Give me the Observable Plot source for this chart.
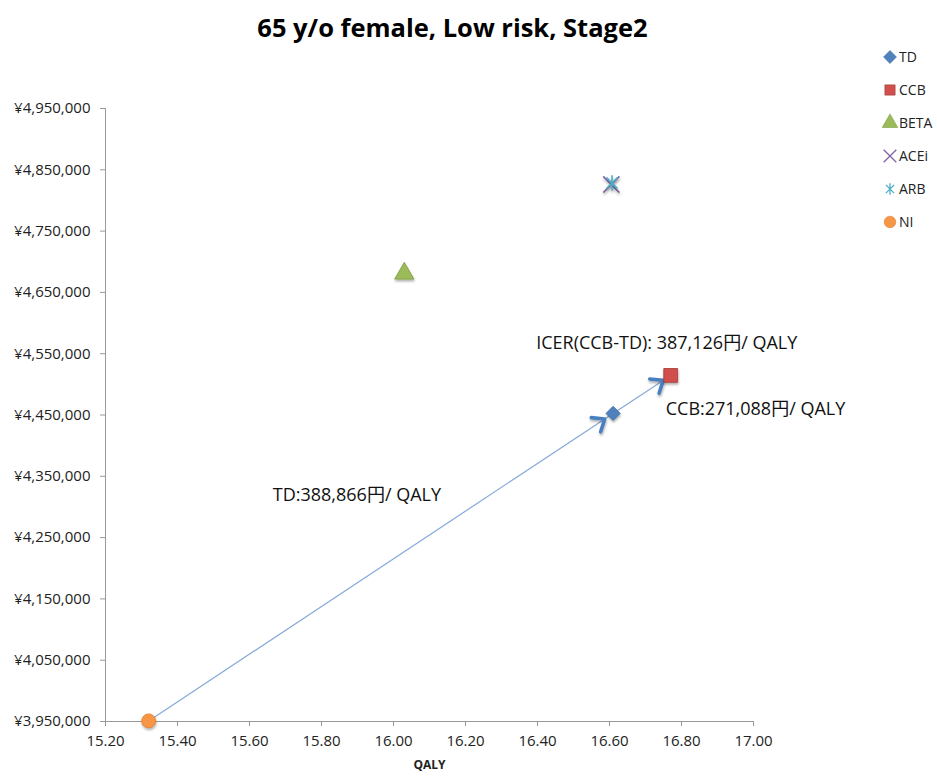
<!DOCTYPE html>
<html>
<head>
<meta charset="utf-8">
<script src="https://cdn.jsdelivr.net/npm/d3@7"></script>
<script src="https://cdn.jsdelivr.net/npm/@observablehq/plot@0.6"></script>
<style>
  body { margin: 0; background: #fff; }
  #wrap { position: relative; width: 937px; height: 778px; font-family: "Open Sans", "Noto Sans CJK JP", sans-serif; }
  #title { position: absolute; left: 0; top: 10px; width: 905px; text-align: center; font-weight: 700; font-size: 25.5px; color: #000; }
  #chart { position: absolute; left: 0; top: 0; }
  #legend { position: absolute; left: 884px; top: 40px; font-size: 14px; color: #222; }
  #legend .item { display: flex; align-items: center; height: 33px; }
  #legend svg { margin-right: 3px; overflow: visible; }
</style>
</head>
<body>
<div id="wrap">
  <div id="chart"></div>
  <div id="title">65 y/o female, Low risk, Stage2</div>
  <div id="legend"></div>
</div>
<script>
// Treatment strategies: lifetime QALYs and costs (yen)
const strategies = ["TD", "CCB", "BETA", "ACEi", "ARB", "NI"];
const qaly = [16.61, 16.77, 16.03, 16.605, 16.607, 15.32];
const cost = [4452637, 4514577, 4680800, 4826000, 4828500, 3951000];

// Incremental comparisons drawn as arrows (from -> to)
const compareFrom = ["NI", "TD"];
const compareTo = ["TD", "CCB"];

// Cost-effectiveness annotations
const icerTD = 388866;
const icerCCB = 271088;
const icerCCBvsTD = 387126;

// Axis ticks
const xTicks = [15.2, 15.4, 15.6, 15.8, 16.0, 16.2, 16.4, 16.6, 16.8, 17.0];
const yTicks = [3950000, 4050000, 4150000, 4250000, 4350000, 4450000, 4550000, 4650000, 4750000, 4850000, 4950000];

// Marker styling per strategy
const styles = {
  TD:   {symbol: "diamond2", fill: "#4f81bd", stroke: "#3b6aa0", r: 6.4},
  CCB:  {symbol: "square",   fill: "#d0504d", stroke: "#a23936", r: 7.8},
  BETA: {symbol: "triangle", fill: "#9bbb59", stroke: "#7f9c43", r: 7.2},
  ACEi: {symbol: "times",    fill: "none",    stroke: "#8064a2", r: 7.4},
  ARB:  {symbol: "star8",    fill: "none",    stroke: "#4bacc6", r: 7.8},
  NI:   {symbol: "circle",   fill: "#f79646", stroke: "#e07b2a", r: 7}
};

// Star marker: vertical line plus an X
const star8 = {
  draw(context, size) {
    const r = Math.sqrt(size / Math.PI);
    const d = r * Math.SQRT1_2;
    context.moveTo(0, -r); context.lineTo(0, r);
    context.moveTo(-d, -d); context.lineTo(d, d);
    context.moveTo(-d, d); context.lineTo(d, -d);
  }
};

// Open chevron arrowhead with its tip at the anchor point, pointing up before rotation
const chevron = {
  draw(context) {
    const w = 8.5, h = 10.5;
    context.moveTo(-w, h); context.lineTo(0, 0); context.lineTo(w, h);
  }
};

const points = strategies.map((s, i) => ({name: s, qaly: qaly[i], cost: cost[i], ...styles[s]}));
const byName = Object.fromEntries(points.map(p => [p.name, p]));
// where along each comparison the arrowhead tip sits (just short of the target marker)
const tipAt = [0.982, 0.87];
const links = compareFrom.map((f, i) => ({from: byName[f], to: byName[compareTo[i]], t: tipAt[i]}));
const tips = links.map(l => ({
  x: l.from.qaly + (l.to.qaly - l.from.qaly) * l.t,
  y: l.from.cost + (l.to.cost - l.from.cost) * l.t
}));

const yen = d3.format(",");
const font = `"Open Sans", "Noto Sans CJK JP", sans-serif`;
const symbolOf = s => s === "star8" ? star8 : s;
const mid = (a, b) => ({x: (a.qaly + b.qaly) / 2, y: (a.cost + b.cost) / 2});

function build(angles) {
  return Plot.plot({
    width: 937,
    height: 778,
    marginLeft: 105,
    marginRight: 184,
    marginTop: 108,
    marginBottom: 57,
    style: {fontFamily: font, fontSize: "15px", color: "#222", background: "transparent"},
    x: {domain: [15.2, 17.0], label: null},
    y: {domain: [3950000, 4950000], label: null},
    marks: [
      Plot.axisX({ticks: xTicks, tickFormat: d => d.toFixed(2), tickSize: 5, tickPadding: 9, stroke: "#999", fontSize: 15, fill: "#222"}),
      Plot.axisY({ticks: yTicks, tickFormat: d => "¥" + yen(d), tickSize: 5, tickPadding: 10, stroke: "#999", fontSize: 15, fill: "#222"}),
      Plot.ruleX([15.2], {stroke: "#999"}),
      Plot.ruleY([3950000], {stroke: "#999"}),
      Plot.link(links, {x1: d => d.from.qaly, y1: d => d.from.cost, x2: d => d.to.qaly, y2: d => d.to.cost, stroke: "#86a9d8", strokeWidth: 1.2}),
      angles ? Plot.vector(tips, {x: "x", y: "y", rotate: (d, i) => angles[i], length: 10, anchor: "start",
        shape: chevron, stroke: "#4a7fc1", strokeWidth: 3.6, strokeLinecap: "round", strokeLinejoin: "round"}) : null,
      ...points.map(p => Plot.dot([p], {
        x: "qaly", y: "cost", symbol: () => symbolOf(p.symbol), r: p.r,
        fill: p.fill, stroke: p.stroke, strokeWidth: p.fill === "none" ? 1.6 : 0.8
      })),
      Plot.text([byName.CCB], {x: "qaly", y: "cost", text: () => `ICER(CCB-TD): ${yen(icerCCBvsTD)}円/ QALY`,
        textAnchor: "middle", dx: -4, dy: -32, fontSize: 18, fill: "#111"}),
      Plot.text([byName.CCB], {x: "qaly", y: "cost", text: () => `CCB:${yen(icerCCB)}円/ QALY`,
        textAnchor: "start", dx: -5, dy: 34, fontSize: 18, fill: "#111"}),
      Plot.text([mid(byName.NI, byName.TD)], {x: "x", y: "y", text: () => `TD:${yen(icerTD)}円/ QALY`,
        textAnchor: "middle", dx: -24, dy: -72, fontSize: 18, fill: "#111"}),
      Plot.text(["QALY"], {frameAnchor: "bottom", dy: 47, fontWeight: "bold", fontSize: 12, fill: "#222"})
    ]
  });
}

// First pass gives the scales; arrowhead rotations follow each comparison's on-screen direction
const probe = build(null);
const sx = probe.scale("x"), sy = probe.scale("y");
const angles = links.map(l => {
  const dx = sx.apply(l.to.qaly) - sx.apply(l.from.qaly);
  const dy = sy.apply(l.to.cost) - sy.apply(l.from.cost);
  return Math.atan2(dx, -dy) * 180 / Math.PI;
});
const chart = build(angles);
document.getElementById("chart").append(chart);

// Soft drop shadow under markers and arrowheads
const svg = d3.select(chart);
const defs = svg.insert("defs", ":first-child");
defs.append("filter").attr("id", "shadow").attr("x", "-50%").attr("y", "-50%").attr("width", "200%").attr("height", "200%")
  .append("feDropShadow").attr("dx", 0.5).attr("dy", 2).attr("stdDeviation", 1.2).attr("flood-color", "#000").attr("flood-opacity", 0.3);
svg.selectAll('g[aria-label="dot"], g[aria-label="vector"]').attr("filter", "url(#shadow)");

// Legend
const legend = d3.select("#legend");
for (const p of points) {
  const item = legend.append("div").attr("class", "item");
  const s = item.append("svg").attr("width", 12).attr("height", 14);
  const sym = p.symbol === "star8" ? star8 : ({diamond2: d3.symbolDiamond2, square: d3.symbolSquare, triangle: d3.symbolTriangle, times: d3.symbolTimes, circle: d3.symbolCircle})[p.symbol];
  s.append("path").attr("transform", "translate(6,7)")
    .attr("d", d3.symbol(sym, Math.PI * 5.8 * 5.8)())
    .attr("fill", p.fill).attr("stroke", p.stroke).attr("stroke-width", p.fill === "none" ? 1.3 : 0.6);
  item.append("span").text(p.name);
}
</script>
</body>
</html>
